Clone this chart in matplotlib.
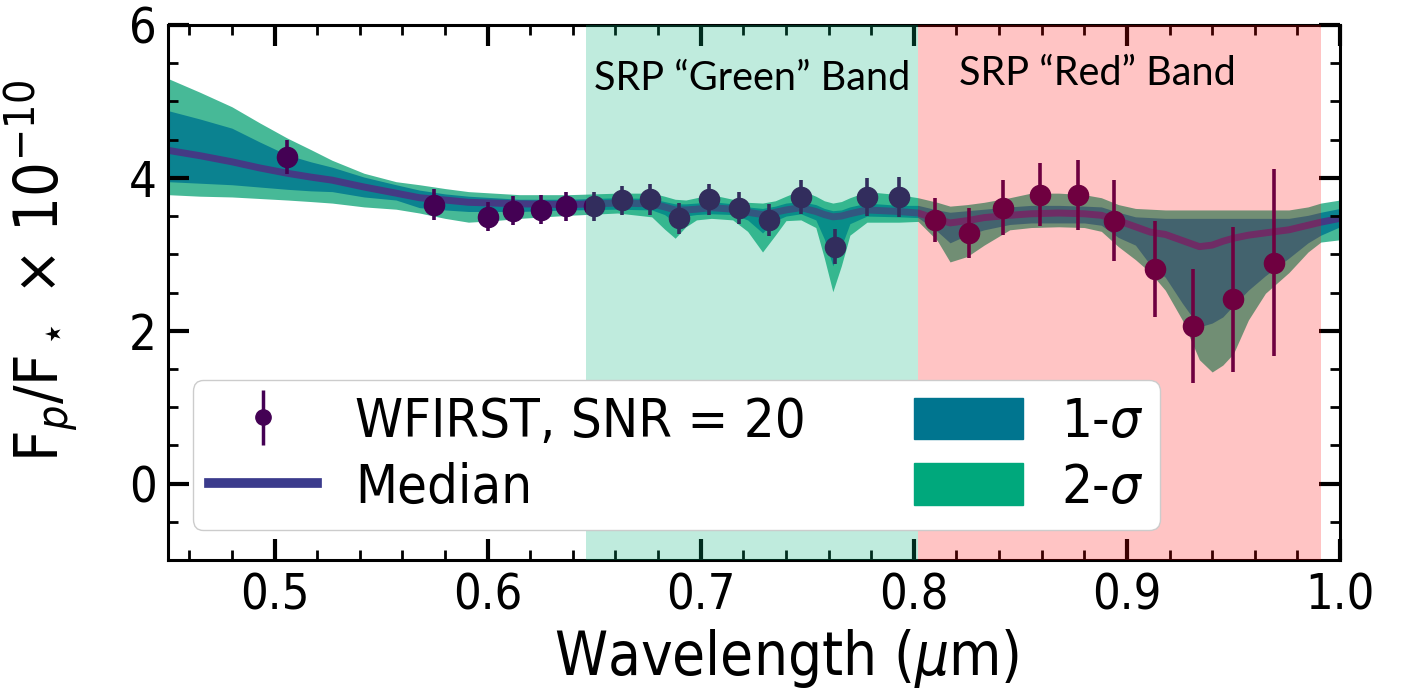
import matplotlib
matplotlib.use("Agg")
import matplotlib.pyplot as plt
import numpy as np
from matplotlib.patches import Patch
from matplotlib.lines import Line2D

# retrieval envelope (wavelength in micron, Fp/F* in 1e-10)
wl = [0.450, 0.465, 0.480, 0.493, 0.506, 0.517, 0.527, 0.542, 0.557, 0.568,
      0.580, 0.591, 0.603, 0.615, 0.638, 0.661, 0.677, 0.683, 0.688, 0.693,
      0.698, 0.705, 0.715, 0.722, 0.729, 0.735, 0.740, 0.747, 0.754, 0.758,
      0.762, 0.766, 0.770, 0.778, 0.793, 0.802, 0.811, 0.817, 0.825, 0.833,
      0.845, 0.855, 0.868, 0.880, 0.888, 0.896, 0.904, 0.911, 0.918, 0.926,
      0.934, 0.940, 0.945, 0.950, 0.957, 0.965, 0.976, 0.985, 0.991, 1.000]
up2 = [5.30, 5.12, 4.93, 4.72, 4.52, 4.37, 4.23, 4.06, 3.95, 3.91,
       3.86, 3.82, 3.80, 3.78, 3.78, 3.80, 3.80, 3.76, 3.72, 3.71,
       3.74, 3.78, 3.72, 3.68, 3.67, 3.70, 3.76, 3.84, 3.76, 3.70,
       3.67, 3.69, 3.74, 3.82, 3.78, 3.74, 3.68, 3.63, 3.65, 3.68,
       3.74, 3.80, 3.80, 3.78, 3.74, 3.65, 3.60, 3.59, 3.58, 3.58,
       3.58, 3.58, 3.58, 3.58, 3.58, 3.58, 3.58, 3.62, 3.67, 3.71]
up1 = [4.88, 4.77, 4.65, 4.47, 4.30, 4.21, 4.14, 4.01, 3.91, 3.84,
       3.79, 3.76, 3.74, 3.72, 3.72, 3.74, 3.73, 3.69, 3.66, 3.66,
       3.67, 3.69, 3.66, 3.62, 3.60, 3.63, 3.67, 3.69, 3.65, 3.60,
       3.57, 3.58, 3.62, 3.67, 3.64, 3.64, 3.58, 3.55, 3.57, 3.59,
       3.62, 3.64, 3.64, 3.63, 3.62, 3.55, 3.49, 3.48, 3.47, 3.47,
       3.47, 3.47, 3.47, 3.47, 3.47, 3.47, 3.47, 3.51, 3.55, 3.60]
median = [4.36, 4.29, 4.21, 4.13, 4.06, 4.01, 3.97, 3.88, 3.80, 3.74,
          3.71, 3.68, 3.67, 3.66, 3.65, 3.67, 3.66, 3.62, 3.58, 3.58,
          3.59, 3.61, 3.59, 3.55, 3.52, 3.55, 3.58, 3.61, 3.56, 3.52,
          3.49, 3.50, 3.53, 3.58, 3.56, 3.54, 3.46, 3.41, 3.44, 3.48,
          3.51, 3.53, 3.54, 3.53, 3.51, 3.44, 3.36, 3.29, 3.26, 3.18,
          3.10, 3.12, 3.17, 3.21, 3.25, 3.28, 3.32, 3.38, 3.42, 3.47]
lo1 = [3.95, 3.93, 3.91, 3.88, 3.85, 3.83, 3.82, 3.75, 3.71, 3.61,
       3.58, 3.56, 3.56, 3.56, 3.58, 3.59, 3.58, 3.52, 3.42, 3.50,
       3.52, 3.53, 3.52, 3.45, 3.28, 3.44, 3.50, 3.53, 3.45, 3.20,
       2.85, 3.10, 3.40, 3.50, 3.49, 3.48, 3.30, 3.15, 3.25, 3.32,
       3.39, 3.41, 3.41, 3.41, 3.38, 3.22, 3.12, 2.86, 2.70, 2.36,
       2.05, 2.10, 2.18, 2.33, 2.53, 2.72, 2.95, 3.15, 3.25, 3.36]
lo2 = [3.78, 3.76, 3.75, 3.73, 3.71, 3.69, 3.67, 3.62, 3.59, 3.54,
       3.47, 3.42, 3.44, 3.47, 3.51, 3.54, 3.49, 3.33, 3.21, 3.36,
       3.45, 3.47, 3.45, 3.30, 3.03, 3.25, 3.44, 3.45, 3.35, 2.95,
       2.51, 2.85, 3.25, 3.42, 3.42, 3.43, 3.18, 2.90, 2.97, 3.12,
       3.32, 3.35, 3.36, 3.35, 3.30, 3.10, 2.93, 2.76, 2.53, 2.14,
       1.62, 1.46, 1.55, 1.70, 2.14, 2.49, 2.76, 3.03, 3.16, 3.19]

# simulated WFIRST points
obs_wl = [0.506, 0.575, 0.600, 0.612, 0.625, 0.637, 0.650, 0.663, 0.676, 0.690,
          0.704, 0.718, 0.732, 0.747, 0.763, 0.778, 0.793, 0.810, 0.826, 0.842,
          0.859, 0.877, 0.894, 0.913, 0.931, 0.950, 0.969]
obs_flux = [4.27, 3.65, 3.49, 3.57, 3.58, 3.63, 3.63, 3.71, 3.72, 3.47,
            3.72, 3.61, 3.45, 3.75, 3.10, 3.75, 3.75, 3.45, 3.28, 3.61,
            3.78, 3.78, 3.44, 2.81, 2.06, 2.41, 2.89]
obs_err = [0.22, 0.20, 0.19, 0.19, 0.19, 0.19, 0.19, 0.19, 0.20, 0.20,
           0.20, 0.21, 0.21, 0.22, 0.23, 0.25, 0.26, 0.29, 0.33, 0.36,
           0.41, 0.46, 0.53, 0.63, 0.75, 0.95, 1.22]

green_band = (0.646, 0.802)
red_band = (0.802, 0.991)

c1 = '#0b8290'
c2 = '#47b997'
c1_leg = '#00758f'
c2_leg = '#00a87c'
c_med = '#443a84'
c_pt = '#440154'

plt.rcParams['font.stretch'] = 'condensed'

fig = plt.figure(figsize=(14.1, 6.98), dpi=100)
ax = fig.add_axes([168/1410, 138/698, 1172/1410, 535/698])

ax.fill_between(wl, lo2, up2, color=c2, lw=0, zorder=1)
ax.fill_between(wl, lo1, up1, color=c1, lw=0, zorder=1.1)
ax.plot(wl, median, color=c_med, lw=5, zorder=1.5)
ax.errorbar(obs_wl, obs_flux, yerr=obs_err, fmt='o', color=c_pt, ms=14.5,
            elinewidth=2.6, capsize=0, zorder=2)

ax.axvspan(*green_band, color=(0.0, 0.70, 0.47), alpha=0.25, lw=0, zorder=3)
ax.axvspan(*red_band, color=(1.0, 0.0, 0.0), alpha=0.23, lw=0, zorder=3)

ax.text(np.mean(green_band), 5.3, 'SRP \u201cGreen\u201d Band', family='Lato',
        fontstretch='normal', fontsize=28.5, ha='center', va='center', zorder=6)
ax.text(0.886, 5.36, 'SRP \u201cRed\u201d Band', family='Lato',
        fontstretch='normal', fontsize=28.5, ha='center', va='center', zorder=6)

ax.set_xlim(0.45, 1.0)
ax.set_ylim(-1, 6)
ax.set_xticks(np.arange(0.5, 1.01, 0.1))
ax.set_xticks(np.arange(0.46, 1.0, 0.02), minor=True)
ax.set_yticks([0, 2, 4, 6])
ax.set_yticks(np.arange(-1, 6.01, 0.5), minor=True)
ax.tick_params(which='both', direction='in', top=True, right=True, labelsize=35, pad=8)
ax.tick_params(which='major', length=15, width=3)
ax.tick_params(which='minor', length=7, width=2)
for s in ax.spines.values():
    s.set_linewidth(2.2)

ax.set_xlabel(r'Wavelength ($\mu$m)', fontsize=43)
ax.xaxis.set_label_coords(0.528, -0.125)
ax.set_ylabel(r'F$_p$/F$_\star$ $\times$ 10$^{-10}$', fontsize=44)
ax.yaxis.set_label_coords(-0.075, 0.54)

h_pt = ax.errorbar([], [], yerr=[], fmt='o', color=c_pt, ms=11, elinewidth=2.5)
handles = [h_pt,
           Line2D([], [], color='#3b3b8c', lw=7),
           Patch(color=c1_leg), Patch(color=c2_leg)]
labels = ['WFIRST, SNR = 20', 'Median', r'1-$\sigma$', r'2-$\sigma$']
ax.legend(handles, labels, ncol=2, loc='lower left',
          bbox_to_anchor=(0.021, 0.056, 0.825, 0.295), mode='expand',
          borderaxespad=0, fontsize=39, framealpha=1, handlelength=2.0,
          handleheight=0.8, labelspacing=0.25, borderpad=0.3,
          handletextpad=0.7)

fig.savefig('out.png', dpi=100)
